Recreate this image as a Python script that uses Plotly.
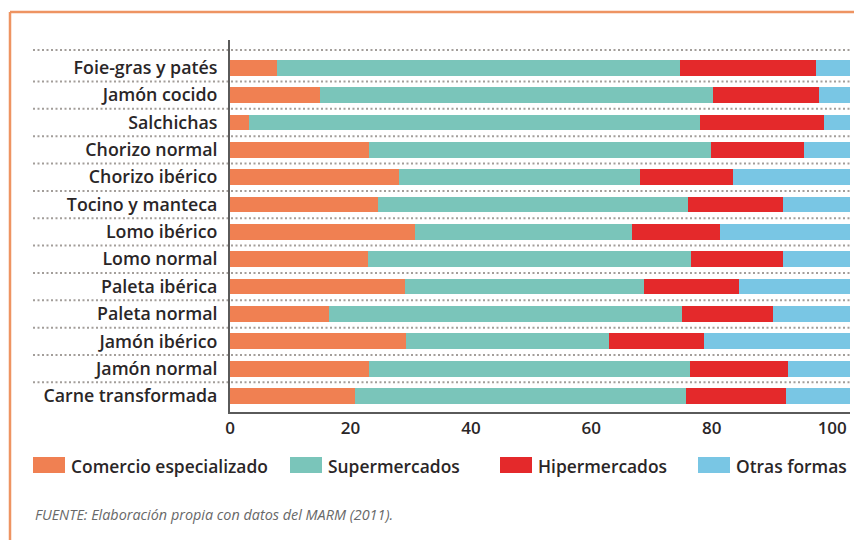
import plotly.graph_objects as go

# ---- data (top to bottom as shown) ----
categories = ["Foie-gras y patés", "Jamón cocido", "Salchichas", "Chorizo normal",
              "Chorizo ibérico", "Tocino y manteca", "Lomo ibérico", "Lomo normal",
              "Paleta ibérica", "Paleta normal", "Jamón ibérico", "Jamón normal",
              "Carne transformada"]
series_names = ["Comercio especializado", "Supermercados", "Hipermercados", "Otras formas"]
comercio = [7.8, 14.9, 3.2, 23.1, 28.0, 24.5, 30.8, 22.9, 29.0, 16.4, 29.3, 23.1, 20.8]
supermercados = [66.9, 65.3, 74.9, 56.8, 40.0, 51.5, 35.9, 53.6, 39.8, 58.6, 33.6, 53.2, 54.9]
hipermercados = [22.6, 17.6, 20.6, 15.4, 15.5, 15.8, 14.6, 15.4, 15.7, 15.1, 15.8, 16.3, 16.6]
otras = [5.6, 5.1, 4.2, 7.6, 19.4, 11.1, 21.6, 11.0, 18.4, 12.8, 24.2, 10.3, 10.6]
x_ticks = [0, 20, 40, 60, 80, 100]
source_note = "FUENTE: Elaboración propia con datos del MARM (2011)."

colors = ["#F08052", "#7AC5BA", "#E4292B", "#79C6E4"]
values = [comercio, supermercados, hipermercados, otras]

OFF = 8  # page body margin offset
W, H = 862 - OFF, 540 - OFF
# plot area in page pixels: x 230..850, y 40..412
L, R, T, B = 230 - OFF, 862 - 850, 40 - OFF, 540 - 412
pw, ph = W - L - R, H - T - B

def px_x(p):
    return (p - OFF - L) / pw

def px_y(p):
    return (H - B - (p - OFF)) / ph

FONT = "Open Sans"
TXT = "#2a2627"

fig = go.Figure()
for name, vals, col in zip(series_names, values, colors):
    fig.add_trace(go.Bar(
        y=categories, x=vals, name=name, orientation="h",
        marker=dict(color=col, line=dict(width=0)),
        showlegend=False,
    ))

shapes = []
# outer orange frame (top and left)
shapes.append(dict(type="line", xref="paper", yref="paper",
                   x0=px_x(10), x1=px_x(870), y0=px_y(12), y1=px_y(12),
                   line=dict(color="#EE9462", width=2.5)))
shapes.append(dict(type="line", xref="paper", yref="paper",
                   x0=px_x(10), x1=px_x(10), y0=px_y(12), y1=px_y(545),
                   line=dict(color="#EE9462", width=2.5)))
# dotted separators
sep_positions = [-0.651] + [i + 0.5 for i in range(len(categories) - 1)]
for yv in sep_positions:
    shapes.append(dict(type="line", xref="paper", yref="y",
                       x0=px_x(33), x1=1.0, y0=yv, y1=yv,
                       line=dict(color="#A39E9A", width=2, dash="2px,2.5px"),
                       layer="below"))

# custom legend
legend_swatch_x = [33, 290, 500, 698]
annotations = []
for name, col, sx in zip(series_names, colors, legend_swatch_x):
    shapes.append(dict(type="rect", xref="paper", yref="paper",
                       x0=px_x(sx), x1=px_x(sx + 32), y0=px_y(473), y1=px_y(457),
                       fillcolor=col, line=dict(width=0)))
    annotations.append(dict(xref="paper", yref="paper", x=px_x(sx + 36), y=px_y(466),
                            xanchor="left", yanchor="middle", showarrow=False,
                            text=name, font=dict(family=FONT, size=17.4, color=TXT, weight=600)))

annotations.append(dict(xref="paper", yref="paper", x=px_x(33), y=px_y(514),
                        xanchor="left", yanchor="middle", showarrow=False,
                        text="<i>" + source_note + "</i>",
                        font=dict(family=FONT, size=14.4, color="#686868", weight=400)))

fig.update_layout(
    width=W, height=H,
    margin=dict(l=L, r=R, t=T, b=B, pad=0),
    barmode="stack", bargap=0.425,
    plot_bgcolor="white", paper_bgcolor="white",
    shapes=shapes, annotations=annotations,
    showlegend=False,
    xaxis=dict(range=[0, 102.95], tickvals=x_ticks, ticktext=[str(v) for v in x_ticks],
               showgrid=False, zeroline=False, showline=True, linecolor="#5a5a5a",
               linewidth=2, ticks="", tickfont=dict(family=FONT, size=17, color=TXT, weight=600),
               fixedrange=True),
    yaxis=dict(type="category", range=[12.585, -1.017], showgrid=False, zeroline=False,
               showline=True, linecolor="#5a5a5a", linewidth=2, ticks="",
               ticklabelstandoff=7,
               tickfont=dict(family=FONT, size=17.8, color=TXT, weight=600), fixedrange=True),
)

fig.write_html("out.html")
